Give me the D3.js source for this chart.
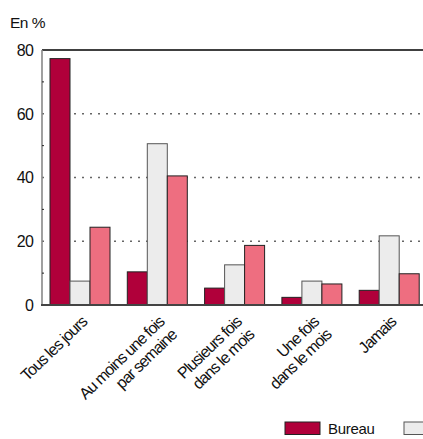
<!DOCTYPE html>
<html>
<head>
<meta charset="utf-8">
<script src="https://cdn.jsdelivr.net/npm/d3@7"></script>
<style>
  body { margin: 0; background: #fff; }
  svg { display: block; font-family: "Liberation Sans", Arial, sans-serif; }
</style>
</head>
<body>
<svg width="423" height="439"></svg>
<script>
const categories = [
  ["Tous les jours"],
  ["Au moins une fois", "par semaine"],
  ["Plusieurs fois", "dans le mois"],
  ["Une fois", "dans le mois"],
  ["Jamais"],
];
const seriesNames = ["Bureau", "Domicile", "Ailleurs"];
const seriesColors = ["#b0003a", "#ececec", "#ee6e80"];
const bureau = [77.3, 10.4, 5.3, 2.4, 4.6];
const domicile = [7.5, 50.6, 12.6, 7.5, 21.7];
const ailleurs = [24.4, 40.5, 18.7, 6.6, 9.8];
const yTicks = [0, 20, 40, 60, 80];
const yMinor = [10, 30, 50, 70];

(function () {
  const svg = d3.select("svg");
  const width = 423;
  const plotLeft = 42, plotTop = 50, plotBottom = 305;

  const series = [bureau, domicile, ailleurs];
  const keys = categories.map((c) => c.join(" "));

  const x = d3.scaleBand().domain(keys).range([plotLeft, 427.2])
    .paddingInner(0.2238).paddingOuter(0.1035);
  const xs = d3.scaleBand().domain(d3.range(series.length)).range([0, x.bandwidth()]);
  const y = d3.scaleLinear().domain([0, 80]).range([plotBottom, plotTop]);

  // dotted grid
  svg.append("g")
    .selectAll("line")
    .data(yTicks.filter((t) => t > 0 && t < 80))
    .join("line")
    .attr("x1", plotLeft).attr("x2", width)
    .attr("y1", (d) => y(d)).attr("y2", (d) => y(d))
    .attr("stroke", "#666")
    .attr("stroke-width", 1.6)
    .attr("stroke-dasharray", "2,6");

  // bars
  const groups = svg.append("g")
    .selectAll("g")
    .data(keys)
    .join("g")
    .attr("transform", (d) => `translate(${x(d)},0)`);

  groups.selectAll("rect")
    .data((d, i) => series.map((s, j) => ({ j, v: s[i] })))
    .join("rect")
    .attr("x", (d) => xs(d.j))
    .attr("width", xs.bandwidth())
    .attr("y", (d) => y(d.v))
    .attr("height", (d) => y(0) - y(d.v))
    .attr("fill", (d) => seriesColors[d.j])
    .attr("stroke", (d) => (d.j === 1 ? "#555" : "#222"))
    .attr("stroke-width", 1);

  // frame
  svg.append("line")
    .attr("x1", plotLeft).attr("x2", width)
    .attr("y1", y(80)).attr("y2", y(80))
    .attr("stroke", "#000").attr("stroke-width", 1.6);
  svg.append("line")
    .attr("x1", plotLeft).attr("x2", plotLeft)
    .attr("y1", y(80)).attr("y2", y(0))
    .attr("stroke", "#888").attr("stroke-width", 1.6);
  svg.append("line")
    .attr("x1", plotLeft - 1).attr("x2", width)
    .attr("y1", y(0)).attr("y2", y(0))
    .attr("stroke", "#444").attr("stroke-width", 1.8);

  svg.append("g")
    .selectAll("line")
    .data(yMinor)
    .join("line")
    .attr("x1", plotLeft).attr("x2", plotLeft + 2)
    .attr("y1", (d) => y(d)).attr("y2", (d) => y(d))
    .attr("stroke", "#222");

  // y labels
  svg.append("g")
    .selectAll("text")
    .data(yTicks)
    .join("text")
    .attr("x", 33)
    .attr("y", (d) => y(d))
    .attr("dy", "0.36em")
    .attr("text-anchor", "end")
    .attr("font-size", 16)
    .attr("letter-spacing", -0.8)
    .attr("fill", "#111")
    .text((d) => d);

  svg.append("text")
    .attr("x", 10).attr("y", 28)
    .attr("font-size", 15.5)
    .attr("letter-spacing", -0.5)
    .attr("fill", "#111")
    .text("En %");

  // category labels
  const catLabels = svg.append("g")
    .selectAll("text")
    .data(categories)
    .join("text")
    .attr("transform", (d, i) =>
      `translate(${x(keys[i]) + x.bandwidth() / 2 + 8},${plotBottom + 18}) rotate(-44)`)
    .attr("text-anchor", "end")
    .attr("font-size", 16)
    .attr("letter-spacing", -0.95)
    .attr("fill", "#111");

  catLabels.selectAll("tspan")
    .data((d) => d)
    .join("tspan")
    .attr("x", 0)
    .attr("dy", (d, i) => (i === 0 ? 0 : "1.12em"))
    .text((d) => d);

  // legend (the chart is cropped at the right edge, as in the source)
  const legend = svg.append("g")
    .selectAll("g")
    .data(seriesNames)
    .join("g")
    .attr("transform", (d, i) => `translate(${285 + i * 119},422)`);

  legend.append("rect")
    .attr("width", 35).attr("height", 12.5)
    .attr("fill", (d, i) => seriesColors[i])
    .attr("stroke", (d, i) => (i === 1 ? "#555" : "#222"))
    .attr("stroke-width", 1);

  legend.filter((d, i) => 285 + i * 119 + 43 < width)
    .append("text")
    .attr("x", 43).attr("y", 12)
    .attr("font-size", 15)
    .attr("letter-spacing", -0.3)
    .attr("fill", "#111")
    .text((d) => d);
})();
</script>
</body>
</html>
